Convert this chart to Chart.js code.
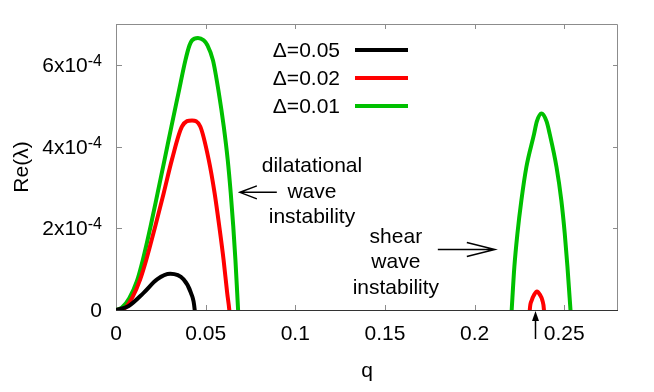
<!DOCTYPE html>
<html>
<head>
<meta charset="utf-8">
<script src="https://cdn.jsdelivr.net/npm/chart.js@4.4.0/dist/chart.umd.min.js"></script>
<style>
  html, body { margin: 0; padding: 0; background: #fff; }
  #wrap { width: 654px; height: 392px; }
</style>
</head>
<body>
<div id="wrap"><canvas id="growthChart" width="654" height="392"></canvas></div>
<script>
const Y_UNIT = 1e-4; // growth rates below are in units of 1e-4

const seriesLabels = ['Δ=0.05', 'Δ=0.02', 'Δ=0.01'];
const seriesColors = ['#000000', '#ff0000', '#00c000'];

// Δ=0.05 (black)
const qBlack  = [0, 0.0071, 0.0154, 0.0229, 0.0303, 0.0377, 0.0418, 0.0439, 0.0443];
const reBlack = [0, 0.10, 0.42, 0.75, 0.885, 0.75, 0.42, 0, -0.3];

// Δ=0.02 (red), dilatational hump and shear hump
const qRedA  = [0, 0.0050, 0.0093, 0.0135, 0.0169, 0.0219, 0.0266, 0.0312, 0.0368, 0.0424, 0.0470, 0.0517, 0.0550, 0.0576, 0.0600, 0.0620, 0.0632, 0.0637];
const reRedA = [0, 0.05, 0.32, 0.75, 1.23, 2.05, 2.86, 3.68, 4.49, 4.64, 4.49, 3.68, 2.86, 2.05, 1.23, 0.42, 0, -0.3];
const qRedB  = [0.2305, 0.2308, 0.2319, 0.2332, 0.2348, 0.2365, 0.2378, 0.2387, 0.2390];
const reRedB = [-0.3, 0, 0.24, 0.37, 0.45, 0.37, 0.24, 0, -0.3];

// Δ=0.01 (green)
const qGreenA  = [0, 0.0033, 0.0074, 0.0117, 0.0150, 0.0193, 0.0232, 0.0271, 0.0309, 0.0348, 0.0387, 0.0410, 0.0424, 0.0457, 0.0489, 0.0510, 0.0541, 0.0574, 0.0601, 0.0623, 0.0640, 0.0654, 0.0666, 0.0676, 0.0681, 0.0685];
const reGreenA = [0, 0.06, 0.29, 0.71, 1.23, 2.05, 2.86, 3.68, 4.49, 5.30, 6.11, 6.48, 6.60, 6.66, 6.60, 6.48, 6.11, 5.30, 4.49, 3.68, 2.86, 2.05, 1.23, 0.42, 0, -0.3];
const qGreenB  = [0.2203, 0.2207, 0.2222, 0.2239, 0.2261, 0.2289, 0.2332, 0.2347, 0.2373, 0.2402, 0.2419, 0.2457, 0.2484, 0.2503, 0.2518, 0.2535, 0.2539];
const reGreenB = [-0.3, 0, 1.06, 1.87, 2.68, 3.50, 4.31, 4.61, 4.81, 4.61, 4.31, 3.50, 2.68, 1.87, 1.06, 0, -0.3];

const xTickValues = [0, 0.05, 0.1, 0.15, 0.2, 0.25];
const xTickLabels = ['0', '0.05', '0.1', '0.15', '0.2', '0.25'];
const yTickValues = [0, 2, 4, 6];
const yTickMant = ['0', '2x10', '4x10', '6x10'];
const yTickExp = ['', '-4', '-4', '-4'];

const FONT = "'Liberation Sans', Arial, sans-serif";

function toPoints(qs, res) {
  return qs.map((q, i) => ({ x: q, y: res[i] * Y_UNIT }));
}
function joinSegments(...segs) {
  const out = [];
  segs.forEach((s, i) => {
    if (i) out.push({ x: null, y: null });
    out.push(...s);
  });
  return out;
}

const seriesData = [
  toPoints(qBlack, reBlack),
  joinSegments(toPoints(qRedA, reRedA), toPoints(qRedB, reRedB)),
  joinSegments(toPoints(qGreenA, reGreenA), toPoints(qGreenB, reGreenB))
];

function arrow(ctx, x1, y1, x2, y2, headLen, headHalf) {
  const ang = Math.atan2(y2 - y1, x2 - x1);
  const c = Math.cos(ang), s = Math.sin(ang);
  ctx.beginPath();
  ctx.moveTo(x1, y1); ctx.lineTo(x2, y2);
  ctx.moveTo(x2 - headLen * c - headHalf * s, y2 - headLen * s + headHalf * c);
  ctx.lineTo(x2, y2);
  ctx.lineTo(x2 - headLen * c + headHalf * s, y2 - headLen * s - headHalf * c);
  ctx.stroke();
}

const decorPlugin = {
  id: 'gnuplotDecor',
  beforeDatasetsDraw(chart) {
    const { ctx, chartArea: a, scales: { x, y } } = chart;
    ctx.save();
    ctx.lineWidth = 1;
    ctx.strokeStyle = '#8c8c8c';
    ctx.beginPath();
    ctx.moveTo(a.left + 0.5, a.bottom); ctx.lineTo(a.left + 0.5, a.top + 0.5);
    ctx.lineTo(a.right - 0.5, a.top + 0.5); ctx.lineTo(a.right - 0.5, a.bottom);
    // inward ticks on all four sides
    xTickValues.forEach(v => {
      const px = Math.round(x.getPixelForValue(v)) + 0.5;
      ctx.moveTo(px, a.bottom); ctx.lineTo(px, a.bottom - 5);
      ctx.moveTo(px, a.top); ctx.lineTo(px, a.top + 5);
    });
    yTickValues.forEach(v => {
      const py = Math.round(y.getPixelForValue(v * Y_UNIT)) + 0.5;
      ctx.moveTo(a.left, py); ctx.lineTo(a.left + 6, py);
      ctx.moveTo(a.right, py); ctx.lineTo(a.right - 5, py);
    });
    ctx.stroke();
    ctx.strokeStyle = '#333';
    ctx.beginPath();
    ctx.moveTo(a.left, a.bottom + 0.5); ctx.lineTo(a.right, a.bottom + 0.5);
    ctx.stroke();
    ctx.restore();
  },
  afterDraw(chart) {
    const { ctx, chartArea: a, scales: { x, y } } = chart;
    ctx.save();
    ctx.fillStyle = '#000';
    ctx.strokeStyle = '#000';

    // y tick labels with superscript exponent
    ctx.textBaseline = 'alphabetic';
    ctx.textAlign = 'right';
    const right = a.left - 14;
    yTickValues.forEach((v, i) => {
      const py = y.getPixelForValue(v * Y_UNIT);
      let r = right;
      if (yTickExp[i]) {
        ctx.font = '16px ' + FONT;
        ctx.fillText(yTickExp[i], r, py + 1);
        r -= ctx.measureText(yTickExp[i]).width;
      }
      ctx.font = '21px ' + FONT;
      ctx.fillText(yTickMant[i], r, py + 7);
    });

    // axis titles
    ctx.font = '21px ' + FONT;
    ctx.textAlign = 'center';
    ctx.fillText('q', (a.left + a.right) / 2, 377);
    ctx.save();
    ctx.translate(22, 167);
    ctx.rotate(-Math.PI / 2);
    ctx.textBaseline = 'middle';
    ctx.fillText('Re(λ)', 0, 0);
    ctx.restore();

    // legend: text then line sample
    ctx.textAlign = 'right';
    seriesLabels.forEach((lab, i) => {
      const ly = 50 + i * 28;
      ctx.fillText(lab, 340, ly + 7);
      ctx.save();
      ctx.strokeStyle = seriesColors[i];
      ctx.lineWidth = 4;
      ctx.beginPath(); ctx.moveTo(355, ly); ctx.lineTo(408, ly); ctx.stroke();
      ctx.restore();
    });

    // annotations
    ctx.textAlign = 'center';
    const dx = x.getPixelForValue(0.1093), dy = y.getPixelForValue(3.37 * Y_UNIT);
    ['dilatational', 'wave', 'instability'].forEach((t, i) => ctx.fillText(t, dx, dy + i * 25.5));
    const sx = x.getPixelForValue(0.1561), sy = y.getPixelForValue(1.64 * Y_UNIT);
    ['shear', 'wave', 'instability'].forEach((t, i) => ctx.fillText(t, sx, sy + i * 25.3));

    ctx.lineWidth = 1.5;
    const ay = y.getPixelForValue(2.88 * Y_UNIT);
    arrow(ctx, x.getPixelForValue(0.0897), ay, x.getPixelForValue(0.0691), ay, 17, 6.5);
    const by = y.getPixelForValue(1.48 * Y_UNIT);
    arrow(ctx, x.getPixelForValue(0.1795), by, x.getPixelForValue(0.2113), by, 28, 7);

    // small arrow marking the shear peak of Δ=0.02
    const mx = Math.round(x.getPixelForValue(0.2336)) + 0.5, my = y.getPixelForValue(0);
    ctx.beginPath(); ctx.moveTo(mx, my + 10); ctx.lineTo(mx, my + 29); ctx.stroke();
    ctx.beginPath();
    ctx.moveTo(mx, my + 1); ctx.lineTo(mx - 3.5, my + 11); ctx.lineTo(mx + 3.5, my + 11);
    ctx.closePath(); ctx.fill();
    ctx.restore();
  }
};

new Chart(document.getElementById('growthChart'), {
  type: 'line',
  data: {
    datasets: seriesData.map((d, i) => ({
      label: seriesLabels[i],
      data: d,
      borderColor: seriesColors[i],
      borderWidth: 4,
      pointRadius: 0,
      cubicInterpolationMode: 'monotone',
      spanGaps: false,
      clip: 0
    }))
  },
  options: {
    responsive: false,
    animation: false,
    devicePixelRatio: 1,
    layout: { padding: { top: 24, right: 36, left: 0, bottom: 0 } },
    plugins: { legend: { display: false }, tooltip: { enabled: false } },
    scales: {
      x: {
        type: 'linear', min: 0, max: 0.28,
        grid: { display: false, drawTicks: false },
        border: { display: false },
        afterBuildTicks: s => { s.ticks = xTickValues.map(v => ({ value: v })); },
        afterFit: s => { s.height = 82; },
        ticks: {
          color: '#000', padding: 12, maxRotation: 0,
          font: { family: FONT, size: 21 },
          callback: (v, i) => xTickLabels[i]
        }
      },
      y: {
        type: 'linear', min: 0, max: 7 * Y_UNIT,
        grid: { display: false, drawTicks: false },
        border: { display: false },
        afterBuildTicks: s => { s.ticks = yTickValues.map(v => ({ value: v * Y_UNIT })); },
        afterFit: s => { s.width = 116; },
        ticks: { display: false }
      }
    }
  },
  plugins: [decorPlugin]
});
</script>
</body>
</html>
